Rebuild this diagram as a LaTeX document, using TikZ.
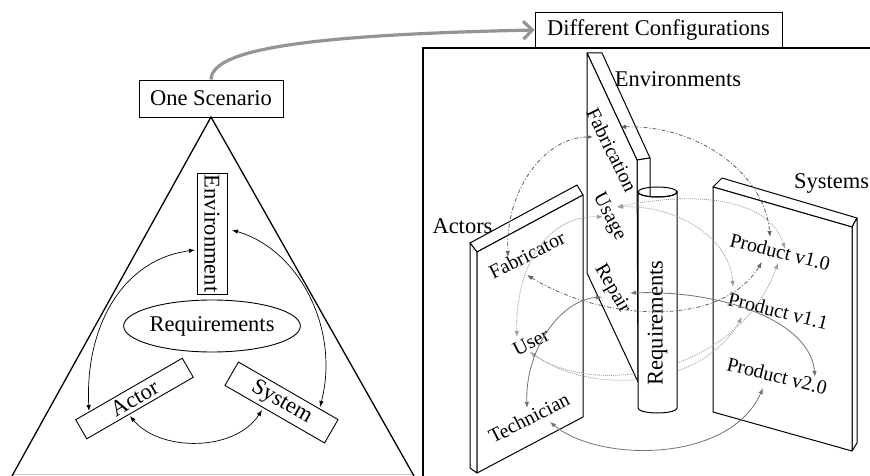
\documentclass[tikz,border=0pt]{standalone}
\usepackage{fontspec}
\setmainfont{Liberation Serif}
\usetikzlibrary{arrows.meta,shapes.geometric,calc}
\definecolor{cfab}{gray}{0.38}
\definecolor{cuse}{gray}{0.62}
\definecolor{crep}{gray}{0.45}
\definecolor{cbig}{gray}{0.58}
\begin{document}
\begin{tikzpicture}[x=1pt,y=-1pt,
  box/.style={draw,line width=0.9pt,inner sep=0pt,font=\fontsize{22.5}{27}\selectfont},
  lbl/.style={inner sep=0pt,font=\fontsize{22.5}{27}\selectfont},
  plbl/.style={inner sep=0pt,font=\fontsize{20}{24}\selectfont},
  panel/.style={draw,line width=1pt,line join=round,fill=white},
  larr/.style={line width=0.7pt,{Latex[length=6pt,width=4.5pt]}-{Latex[length=6pt,width=4.5pt]}},
  fabarr/.style={draw=cfab,line width=0.8pt,dash pattern=on 4pt off 2pt on 1pt off 2pt,{Latex[length=6pt,width=4.5pt]}-{Latex[length=6pt,width=4.5pt]}},
  usearr/.style={draw=cuse,line width=0.8pt,dash pattern=on 1pt off 1pt,{Latex[length=6pt,width=4.5pt]}-{Latex[length=6pt,width=4.5pt]}},
  reparr/.style={draw=crep,line width=0.8pt,{Latex[length=6pt,width=4.5pt]}-{Latex[length=6pt,width=4.5pt]}}
]
\useasboundingbox (0,0) rectangle (870,476);
\clip (0,0) rectangle (870,476);

% ---------------- left: one scenario ----------------
\draw[gray!45,line width=0.8pt] (12,474.5) -- (414,474.5);
\draw[line width=1.3pt,line join=miter] (12,476) -- (211,117) -- (414,476);
\node[box,minimum width=144,minimum height=37] (one) at (211,98.5) {One Scenario};
\node[box,rotate=-90,minimum width=121,minimum height=30] (env) at (212,233.5) {Environment};
\node[box,ellipse,minimum width=171,minimum height=52] (req) at (212,326) {Requirements};
\node[box,rotate=30,minimum width=123,minimum height=22] (actor) at (134.5,398.5) {Actor};
\node[box,rotate=-30,minimum width=115,minimum height=27] (system) at (281.5,402.5) {System};

\draw[larr] ($(env)+(-17,16.5)$) .. controls (120,260) and (85,330) .. ($(actor)+(-45.5,12.5)$);
\draw[larr] ($(env)+(20,-3.5)$) .. controls (300,250) and (340,330) .. ($(system)+(38.5,4.5)$);
\draw[larr] ($(actor)+(-4.5,17.5)$) .. controls (160,452) and (235,452) .. ($(system)+(-19.5,7.5)$);

% ---------------- right: different configurations ----------------
\draw[line width=2pt] (423,48) rectangle (900,500);
\node[box,minimum width=247,minimum height=36] (diff) at (658.5,30) {Different Configurations};

\draw[cbig,line width=3.2pt,-{Straight Barb[length=9pt,width=18pt]}] (one.north) .. controls (212,50) and (300,35) .. (diff.west);

% Actors panel
\draw[panel] (470,243) -- (577,185) -- (583,195) -- (477,252) -- cycle;
\draw[panel] (470,243) -- (477,252) -- (477,473) -- (470,468) -- cycle;
\draw[panel] (477,252) -- (583,195) -- (583,417) -- (477,473) -- cycle;

% Systems panel
\draw[panel] (713,187) -- (722,178) -- (857,218) -- (852,227) -- cycle;
\draw[panel] (852,227) -- (857,218) -- (857,443) -- (852,451) -- cycle;
\draw[panel] (713,187) -- (852,227) -- (852,451) -- (713,412) -- cycle;

% Environments slab
\draw[panel] (587,53) -- (602,53) -- (650,158) -- (637,160) -- cycle;
\draw[panel] (637,160) -- (650,158) -- (650,230) -- (637,230) -- cycle;
\draw[panel] (587,53) -- (637,160) -- (638,382) -- (587,273) -- cycle;

% dotted arcs passing behind the cylinder
\node[plbl,rotate=27] (usr) at (531,342) {User};
\node[plbl,rotate=-14] (p10) at (780,252) {Product v1.0};
\node[plbl,rotate=-14] (p11) at (778,311) {Product v1.1};
\draw[usearr] ($(usr)+(-1,10)$) .. controls (600,400) and (740,370) .. ($(p10)+(-2,11)$);
\draw[usearr] ($(usr)+(-1,10)$) .. controls (590,395) and (700,390) .. ($(p11)+(-36,6)$);

% Requirements cylinder
\draw[line width=1pt,fill=white] (638,192) -- (638,408) arc[start angle=180,end angle=360,x radius=19.5pt,y radius=5pt] -- (677,192) arc[start angle=0,end angle=180,x radius=19.5pt,y radius=-5pt];
\draw[line width=1pt] (657.5,192) ellipse[x radius=19.5pt,y radius=5pt];
\node[lbl,rotate=90] (reqc) at (657.5,323) {Requirements};

% labels
\node[lbl,anchor=base] (envs) at (678,87) {Environments};
\node[lbl,anchor=base] (actors) at (462.5,233) {Actors};
\node[lbl,anchor=base] (systems) at (831.5,188) {Systems};

\node[plbl,rotate=-64] (fab) at (612,150) {Fabrication};
\node[plbl,rotate=-62] (usg) at (609,217) {Usage};
\node[plbl,rotate=-60] (rep) at (612,289) {Repair};
\node[plbl,rotate=27] (fbr) at (527,255) {Fabricator};
\node[plbl,rotate=27] (tec) at (529,418) {Technician};
\node[plbl,rotate=-14] (p20) at (777,376) {Product v2.0};

% fabrication (dash-dot)
\draw[fabarr] ($(fab)+(8,-23)$) .. controls (700,125) and (765,175) .. ($(p10)+(-10,-15)$);
\draw[fabarr] ($(fab)+(-19,-13)$) .. controls (545,137) and (505,190) .. ($(fbr)+(-19,2)$);
\draw[fabarr] ($(fbr)+(0,20)$) .. controls (600,320) and (720,330) .. ($(p10)+(-18,10)$);

% usage (dotted)
\draw[usearr] ($(usg)+(-6,0)$) .. controls (545,215) and (515,270) .. ($(usr)+(-14,-5)$);
\draw[usearr] ($(usg)+(8,-10)$) .. controls (700,190) and (770,200) .. ($(p10)+(5,-3)$);
\draw[usearr] ($(usg)+(8,-10)$) .. controls (680,205) and (730,240) .. ($(p11)+(-45,-24)$);

% repair (solid)
\draw[reparr] ($(rep)+(-10,8)$) .. controls (560,300) and (525,350) .. ($(tec)+(-2,-10)$);
\draw[reparr] ($(rep)+(18,4)$) .. controls (720,290) and (810,320) .. ($(p20)+(38,1)$);
\draw[reparr] ($(tec)+(21,4)$) .. controls (600,463) and (730,463) .. ($(p20)+(-14,12)$);
\end{tikzpicture}
\end{document}
